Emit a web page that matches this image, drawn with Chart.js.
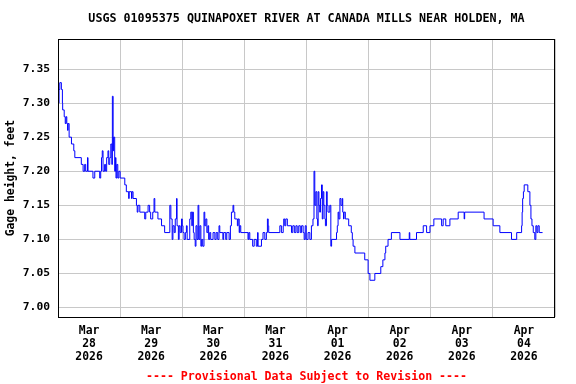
<!DOCTYPE html>
<html>
<head>
<meta charset="utf-8">
<script src="https://cdn.jsdelivr.net/npm/chart.js@4/dist/chart.umd.min.js"></script>
<style>
  html, body { margin: 0; padding: 0; background: #fff; }
  #wrap { width: 576px; height: 384px; }
</style>
</head>
<body>
<div id="wrap"><canvas id="gageChart" width="576" height="384"></canvas></div>
<script>
// Hours since Mar 28 2026 00:00 and gage height (ft)
const hours = [
  0.3, 0.4, 0.7, 1.3, 1.7, 1.8, 2.4, 2.8, 3.1, 3.4, 3.7, 3.9, 4.3, 5.2, 6.1, 6.5,
  9.0, 9.7, 10.3, 10.7, 11.4, 11.6, 13.5, 14.2, 16.1, 16.5, 16.8, 17.1, 17.4, 18.0,
  18.4, 18.8, 19.3, 19.6, 20.0, 20.4, 20.8, 21.0, 21.3, 21.5, 21.9, 22.2, 22.4, 22.7,
  23.1, 23.5, 24.0, 25.8, 26.4, 27.3, 27.5, 28.4, 28.6, 29.0, 30.3, 30.6, 30.9, 31.6,
  33.5, 33.9, 34.8, 35.4, 35.8, 36.6, 37.1, 37.4, 38.6, 40.0, 41.2, 43.2, 43.6, 44.1,
  44.4, 44.9, 45.3, 45.8, 46.0, 46.5, 46.8, 47.2, 47.7, 48.0, 48.3, 48.7, 49.2, 49.6,
  49.9, 50.9, 51.3, 51.7, 51.9, 52.3, 52.6, 53.0, 53.3, 53.7, 54.1, 54.4, 54.8, 55.2,
  55.5, 55.9, 56.4, 56.7, 57.1, 57.5, 57.9, 58.2, 58.6, 59.0, 59.9, 60.6, 61.1, 61.7,
  62.2, 62.5, 63.7, 64.0, 64.8, 65.2, 66.1, 66.6, 67.0, 67.6, 67.9, 68.3, 69.3, 69.6,
  70.0, 70.2, 70.6, 73.4, 73.7, 74.1, 75.2, 75.8, 76.6, 77.1, 77.3, 78.6, 79.2, 79.9,
  80.5, 80.9, 81.2, 81.4, 85.7, 86.3, 87.0, 87.2, 87.6, 88.0, 88.6, 90.2, 90.7, 91.3,
  91.9, 92.4, 93.0, 93.6, 94.1, 94.7, 95.1, 95.5, 95.9, 96.6, 97.3, 97.9, 98.5, 98.9,
  99.2, 99.6, 100.0, 100.3, 100.5, 100.8, 101.1, 101.4, 101.8, 102.1, 102.4, 102.7,
  103.1, 103.3, 103.7, 104.0, 104.3, 105.0, 105.4, 105.7, 107.6, 107.9, 108.2, 108.5,
  108.9, 109.3, 109.8, 110.0, 110.3, 110.5, 111.0, 112.3, 113.3, 113.7, 114.0, 114.7,
  118.5, 119.8, 120.5, 122.4, 124.7, 125.5, 126.3, 126.6, 127.5, 128.8, 132.1, 135.7,
  135.9, 138.5, 141.1, 142.4, 143.7, 145.2, 148.2, 148.8, 149.8, 151.4, 154.6, 156.9,
  157.1, 164.6, 168.1, 170.7, 175.2, 177.2, 179.1, 179.3, 179.5, 179.8, 180.1, 181.5,
  182.3, 182.7, 183.1, 183.6, 184.2, 184.6, 185.0, 185.4, 185.9, 187.2
];
const gageHeight = [
  7.30, 7.32, 7.33, 7.32, 7.30, 7.29, 7.28, 7.27, 7.28, 7.27, 7.26, 7.27, 7.25, 7.24, 7.23, 7.22,
  7.21, 7.20, 7.21, 7.20, 7.22, 7.20, 7.19, 7.20, 7.19, 7.20, 7.22, 7.23, 7.20, 7.21,
  7.20, 7.22, 7.23, 7.21, 7.22, 7.24, 7.21, 7.31, 7.23, 7.25, 7.20, 7.22, 7.19, 7.21,
  7.19, 7.20, 7.19, 7.18, 7.17, 7.16, 7.17, 7.16, 7.17, 7.16, 7.15, 7.14, 7.15, 7.14,
  7.13, 7.14, 7.15, 7.14, 7.13, 7.14, 7.16, 7.14, 7.13, 7.12, 7.11, 7.15, 7.13, 7.10,
  7.12, 7.11, 7.13, 7.16, 7.12, 7.10, 7.12, 7.11, 7.13, 7.12, 7.11, 7.10, 7.11, 7.12,
  7.10, 7.13, 7.14, 7.12, 7.14, 7.11, 7.10, 7.09, 7.12, 7.10, 7.15, 7.10, 7.12, 7.09,
  7.10, 7.09, 7.14, 7.12, 7.13, 7.11, 7.12, 7.10, 7.11, 7.10, 7.11, 7.10, 7.11, 7.10,
  7.12, 7.11, 7.10, 7.11, 7.10, 7.11, 7.10, 7.12, 7.14, 7.15, 7.14, 7.13, 7.12, 7.13,
  7.11, 7.12, 7.11, 7.10, 7.11, 7.10, 7.09, 7.10, 7.09, 7.11, 7.09, 7.10, 7.11, 7.10,
  7.11, 7.13, 7.12, 7.11, 7.12, 7.11, 7.12, 7.13, 7.12, 7.13, 7.12, 7.11, 7.12, 7.11,
  7.12, 7.11, 7.12, 7.11, 7.12, 7.11, 7.10, 7.12, 7.10, 7.11, 7.10, 7.12, 7.13, 7.20,
  7.15, 7.17, 7.13, 7.12, 7.17, 7.15, 7.14, 7.16, 7.18, 7.13, 7.17, 7.15,
  7.13, 7.12, 7.17, 7.15, 7.14, 7.15, 7.09, 7.10, 7.11, 7.12, 7.14, 7.13,
  7.16, 7.15, 7.16, 7.14, 7.13, 7.14, 7.13, 7.12, 7.11, 7.10, 7.09, 7.08,
  7.07, 7.05, 7.04, 7.05, 7.06, 7.07, 7.08, 7.09, 7.10, 7.11, 7.10, 7.11,
  7.10, 7.11, 7.12, 7.11, 7.12, 7.13, 7.12, 7.13, 7.12, 7.13, 7.14, 7.13,
  7.14, 7.13, 7.12, 7.11, 7.10, 7.11, 7.12, 7.14, 7.16, 7.17, 7.18, 7.17,
  7.15, 7.13, 7.12, 7.11, 7.10, 7.12, 7.11, 7.12, 7.11, 7.11
];

// Day labels sit at noon of each day
const dayLabels = [
  ['Mar', '28', '2026'], ['Mar', '29', '2026'], ['Mar', '30', '2026'], ['Mar', '31', '2026'],
  ['Apr', '01', '2026'], ['Apr', '02', '2026'], ['Apr', '03', '2026'], ['Apr', '04', '2026']
];
const yTickValues = [7.00, 7.05, 7.10, 7.15, 7.20, 7.25, 7.30, 7.35];

const FONT = "'DejaVu Sans Mono', 'Liberation Mono', monospace";
const GRID = '#c8c8c8';

// black frame round the plot area
const plotFrame = {
    id: 'plotFrame',
    afterDatasetsDraw(chart) {
        const a = chart.chartArea;
        const ctx = chart.ctx;
        ctx.save();
        ctx.strokeStyle = '#000';
        ctx.lineWidth = 1;
        ctx.strokeRect(Math.round(a.left) + 0.5, Math.round(a.top) + 0.5,
            Math.round(a.right - a.left) - 1, Math.round(a.bottom - a.top));
        ctx.restore();
    }
};

const ctx = document.getElementById('gageChart').getContext('2d');
new Chart(ctx, {
    type: 'line',
    data: {
        datasets: [{
            data: hours.map((h, i) => ({ x: h, y: gageHeight[i] })),
            borderColor: '#0000ff',
            borderWidth: 1,
            stepped: true,
            pointRadius: 0,
            fill: false
        }]
    },
    options: {
        responsive: false,
        animation: false,
        layout: { padding: { left: 0, right: 21, top: 0, bottom: 0 } },
        plugins: {
            legend: { display: false },
            tooltip: { enabled: false },
            title: {
                display: true,
                text: 'USGS 01095375 QUINAPOXET RIVER AT CANADA MILLS NEAR HOLDEN, MA',
                fullSize: false,
                color: '#000',
                font: { family: FONT, size: 11.7, weight: 'bold' },
                padding: { top: 12, bottom: 13 }
            },
            subtitle: {
                display: true,
                position: 'bottom',
                text: '---- Provisional Data Subject to Revision ----',
                fullSize: false,
                color: '#ff0000',
                font: { family: FONT, size: 11.6, weight: 'bold' },
                padding: { top: 3, bottom: 0 }
            }
        },
        scales: {
            x: {
                type: 'linear',
                min: 0,
                max: 192,
                afterBuildTicks: (scale) => {
                    const t = [];
                    for (let v = 0; v <= 192; v += 12) t.push({ value: v });
                    scale.ticks = t;
                },
                afterFit: (scale) => { scale.height = 50; },
                ticks: {
                    autoSkip: false,
                    maxRotation: 0,
                    padding: 8,
                    color: '#000',
                    font: { family: FONT, size: 11.4, weight: 'bold', lineHeight: 1.12 },
                    callback: (value) => value % 24 === 12 ? dayLabels[(value - 12) / 24] : ''
                },
                grid: {
                    drawTicks: false,
                    color: (c) => (c.tick && c.tick.value % 24 === 0) ? GRID : 'rgba(0,0,0,0)'
                },
                border: { display: false }
            },
            y: {
                min: 6.986,
                max: 7.394,
                afterBuildTicks: (scale) => {
                    scale.ticks = yTickValues.map(v => ({ value: v }));
                },
                afterFit: (scale) => { scale.width = 58; },
                ticks: {
                    padding: 8,
                    color: '#000',
                    font: { family: FONT, size: 11.3, weight: 'bold' },
                    callback: (value) => Number(value).toFixed(2)
                },
                grid: { drawTicks: false, color: GRID },
                border: { display: false },
                title: {
                    display: true,
                    text: 'Gage height, feet',
                    color: '#000',
                    font: { family: FONT, size: 11.4, weight: 'bold' },
                    padding: { top: 4, bottom: 0 }
                }
            }
        }
    },
    plugins: [plotFrame]
});
</script>
</body>
</html>
